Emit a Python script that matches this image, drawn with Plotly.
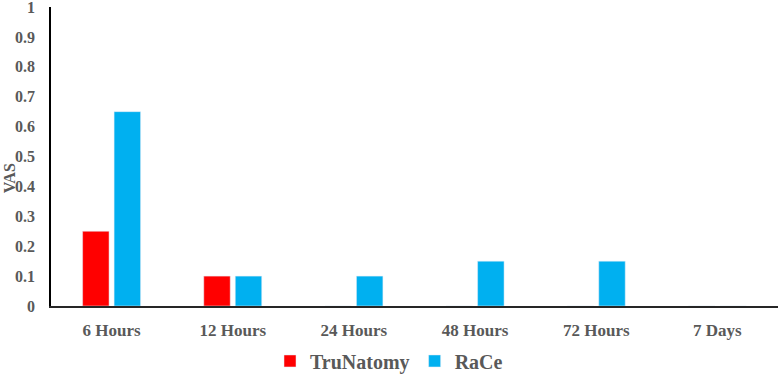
import plotly.graph_objects as go

categories = ["6 Hours", "12 Hours", "24 Hours", "48 Hours", "72 Hours", "7 Days"]
trunatomy = [0.25, 0.1, 0, 0, 0, 0]
race = [0.65, 0.1, 0.1, 0.15, 0.15, 0]
y_ticks = [0, 0.1, 0.2, 0.3, 0.4, 0.5, 0.6, 0.7, 0.8, 0.9, 1]

FONT = "Liberation Serif"
GRAY = "#595959"

fig = go.Figure()
fig.add_trace(go.Bar(x=categories, y=trunatomy, name="TruNatomy", marker_color="#FF0000"))
fig.add_trace(go.Bar(x=categories, y=race, name="RaCe", marker_color="#00B0F0"))

fig.update_layout(
    width=778, height=376,
    margin=dict(l=51, r=0, t=7, b=70),
    paper_bgcolor="white", plot_bgcolor="white",
    barmode="group", bargap=0.48, bargroupgap=0.16,
    font=dict(family=FONT, color=GRAY, size=16),
    showlegend=True,
    legend=dict(orientation="h", xref="container", yref="container",
                x=0.5, xanchor="center", y=0.04, yanchor="middle",
                font=dict(family=FONT, size=20, color=GRAY, weight="bold"),
                itemwidth=30, traceorder="normal", tracegroupgap=0),
)
fig.update_yaxes(range=[0, 1], tickvals=y_ticks, showgrid=False, zeroline=False,
                 showline=True, linecolor="black", linewidth=1.5,
                 ticks="", ticklabelstandoff=11, ticklabeloverflow="allow",
                 tickfont=dict(family=FONT, size=16, color=GRAY, weight="bold"))
fig.update_xaxes(showgrid=False, showline=True, linecolor="#262626", linewidth=1.5,
                 ticks="", ticklabelstandoff=8,
                 tickfont=dict(family=FONT, size=17, color=GRAY, weight="bold"))
fig.add_annotation(text="VAS", xref="paper", yref="paper", x=-0.058, y=0.427,
                   textangle=-90, showarrow=False, xanchor="center", yanchor="middle",
                   font=dict(family=FONT, size=16, color=GRAY, weight="bold"))

fig.write_html("out.html")
